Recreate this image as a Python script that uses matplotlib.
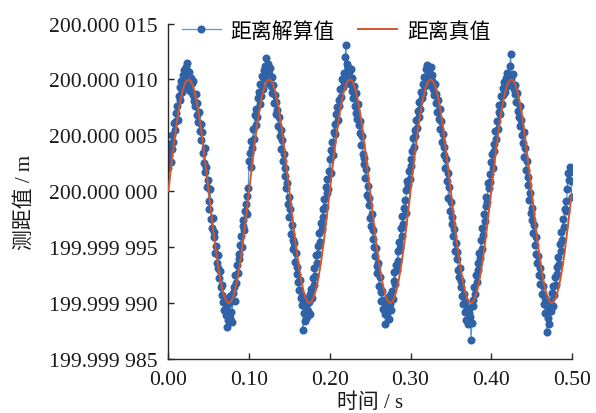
import numpy as np
import matplotlib.pyplot as plt
from matplotlib.ticker import FixedLocator, FixedFormatter

# ============================================================
# Data (offsets from 200 m, in micrometres)
# ============================================================

BASE_M = 200.0

# measured distance, one sample every 0.001 s from 0.000 to 0.500 s
MEAS_DT = 0.001
MEAS_UM = [
    # 0.000 - 0.099
    2.1, 3.2, 4.2, 2.6, 3.8, 5.0, 4.4, 6.1, 5.5, 6.3,
    7.0, 7.6, 6.4, 8.5, 9.3, 8.2, 9.9, 8.9, 10.4, 9.6,
    10.8, 9.2, 11.1, 11.5, 10.2, 9.5, 10.7, 9.0, 10.1, 9.7,
    8.6, 9.9, 8.1, 7.6, 8.7, 6.8, 7.9, 6.2, 7.1, 5.4,
    6.0, 4.6, 5.3, 3.4, 2.5, 3.9, 1.7, 2.2, 0.4, 1.0,
    -0.9, -1.6, 0.2, -2.5, -3.3, -2.4, -4.1, -3.6, -5.5, -4.9,
    -6.4, -5.7, -6.9, -7.8, -7.1, -8.6, -9.3, -8.4, -9.9, -10.6,
    -9.6, -11.1, -10.4, -12.1, -11.5, -10.0, -11.3, -9.4, -10.8, -11.7,
    -9.1, -8.6, -9.8, -7.5, -8.2, -6.6, -7.3, -5.6, -6.1, -4.8,
    -4.0, -5.0, -3.1, -2.6, -3.5, -1.8, -1.1, -2.0, -0.4, 0.3,
    # 0.100 - 0.196
    2.7, 3.4, 2.2, 4.5, 3.9, 5.6, 4.7,
    6.8, 5.9, 7.4, 6.6, 8.3, 8.9, 7.8, 9.6, 8.5, 10.3,
    9.1, 10.8, 10.1, 11.2, 11.9, 10.6, 11.4, 9.7, 10.5, 11.0,
    9.4, 10.2, 8.8, 9.5, 7.9, 8.6, 6.9, 8.0, 7.3, 5.8,
    6.6, 4.9, 5.5, 3.8, 4.6, 2.7, 3.3, 1.4, 2.1, 0.3,
    0.7, -1.1, -0.5, -2.3, -1.6, -3.8, -3.0, -4.4, -5.2, -4.6,
    -6.3, -5.5, -7.4, -6.8, -8.1, -8.8, -7.9, -9.5, -10.2, -9.4,
    -12.4, -10.9, -11.6, -10.3, -9.6, -11.2, -10.7, -9.9, -11.0, -9.2,
    -8.7, -9.5, -7.8, -8.4, -6.9, -7.6, -5.7, -6.4, -4.9, -5.6,
    -3.7, -4.5, -2.8, -3.4, -1.6, -2.3, -0.7, -1.4, 0.4, -0.2,
    # 0.197 - 0.296
    1.1, 0.2, 1.8, 2.9, 1.6, 3.7, 4.4, 3.2, 5.3, 6.0,
    5.1, 6.9, 7.5, 6.4, 8.2, 7.6, 9.1, 8.4, 10.0, 9.3,
    10.6, 9.8, 12.0, 13.1, 11.4, 10.3, 11.1, 10.7, 9.6, 10.9,
    9.0, 10.1, 8.3, 9.4, 7.6, 8.8, 7.0, 6.5, 7.8, 5.9,
    5.2, 6.3, 4.1, 4.9, 3.3, 2.4, 3.0, 1.2, 2.0, -0.3,
    0.5, -1.2, -0.6, -2.4, -3.1, -2.0, -4.3, -3.5, -5.0, -5.8,
    -5.1, -6.7, -7.3, -6.4, -8.5, -7.7, -9.0, -9.8, -8.9, -10.5,
    -9.7, -11.0, -11.9, -10.2, -10.9, -9.5, -11.4, -10.1, -9.3, -10.6,
    -8.9, -9.6, -8.0, -7.2, -8.3, -6.6, -7.0, -5.3, -6.2, -4.5,
    -5.1, -3.3, -4.0, -2.2, -2.9, -1.5, -0.8, -1.9, 0.1, 0.9,
    # 0.297 - 0.396
    0.6, 1.8, 1.1, 2.9, 2.3, 3.6, 4.8, 4.0, 5.5, 4.9,
    6.4, 5.7, 7.2, 6.6, 8.0, 7.4, 8.9, 8.3, 9.6, 8.8,
    10.2, 9.4, 10.9, 10.3, 11.3, 10.0, 10.7, 9.5, 11.1, 9.9,
    10.4, 9.1, 8.6, 9.6, 7.9, 8.7, 7.1, 8.2, 6.5, 7.4,
    5.6, 6.3, 4.4, 5.1, 3.2, 4.0, 2.1, 2.9, 0.9, 1.6,
    -0.6, 0.4, -1.8, -1.0, -2.9, -2.3, -4.0, -3.4, -5.3, -4.6,
    -6.1, -5.4, -7.0, -7.7, -6.9, -8.6, -8.0, -9.4, -10.1, -9.2,
    -10.8, -9.9, -11.5, -10.6, -11.9, -10.4, -10.9, -11.2, -13.3, -11.8,
    -9.7, -10.3, -8.6, -9.2, -7.5, -8.1, -6.4, -7.0, -5.5, -6.0,
    -4.4, -5.2, -3.3, -3.9, -2.0, -2.7, -1.3, -0.5, -1.0, 0.7,
    # 0.397 - 0.496
    0.3, 1.5, 0.8, 2.6, 3.3, 2.1, 4.2, 3.6, 5.4, 4.7,
    6.3, 5.6, 7.1, 7.7, 6.9, 8.5, 7.8, 9.2, 8.6, 9.8,
    8.9, 10.1, 9.4, 10.6, 9.7, 10.3, 11.2, 12.3, 10.0, 9.6,
    10.5, 9.1, 8.7, 9.5, 8.0, 8.8, 7.2, 6.6, 7.6, 5.8,
    6.4, 5.0, 4.3, 5.3, 3.1, 3.9, 1.9, 2.7, 0.6, 1.3,
    -0.8, -0.2, -1.9, -2.6, -1.5, -3.7, -3.0, -4.8, -4.1, -5.6,
    -6.4, -5.8, -7.5, -6.9, -8.3, -7.6, -9.2, -8.5, -10.1, -9.5,
    -10.9, -10.2, -12.6, -11.3, -10.6, -11.9, -9.8, -10.7, -9.1, -10.3,
    -8.5, -9.3, -7.7, -8.4, -6.8, -7.4, -5.9, -6.5, -4.7, -5.3,
    -3.6, -4.4, -2.5, -3.2, -1.6, -0.9, -1.8, 0.2, 1.6, 1.0,
    # 0.497 - 0.500
    1.7, 2.2, 0.9, -0.5,
]

# true distance, one sample every 0.0025 s from 0.000 to 0.500 s
TRUE_DT = 0.0025
TRUE_UM = [
    0.0, 1.56, 3.09, 4.54, 5.88, 7.07, 8.09, 8.91, 9.51, 9.88,
    10.0, 9.88, 9.51, 8.91, 8.09, 7.07, 5.88, 4.54, 3.09, 1.56,
    0.0, -1.56, -3.09, -4.54, -5.88, -7.07, -8.09, -8.91, -9.51, -9.88,
    -10.0, -9.88, -9.51, -8.91, -8.09, -7.07, -5.88, -4.54, -3.09, -1.56,
    0.0, 1.56, 3.09, 4.54, 5.88, 7.07, 8.09, 8.91, 9.51, 9.88,
    10.0, 9.88, 9.51, 8.91, 8.09, 7.07, 5.88, 4.54, 3.09, 1.56,
    0.0, -1.56, -3.09, -4.54, -5.88, -7.07, -8.09, -8.91, -9.51, -9.88,
    -10.0, -9.88, -9.51, -8.91, -8.09, -7.07, -5.88, -4.54, -3.09, -1.56,
    0.0, 1.56, 3.09, 4.54, 5.88, 7.07, 8.09, 8.91, 9.51, 9.88,
    10.0, 9.88, 9.51, 8.91, 8.09, 7.07, 5.88, 4.54, 3.09, 1.56,
    0.0, -1.56, -3.09, -4.54, -5.88, -7.07, -8.09, -8.91, -9.51, -9.88,
    -10.0, -9.88, -9.51, -8.91, -8.09, -7.07, -5.88, -4.54, -3.09, -1.56,
    0.0, 1.56, 3.09, 4.54, 5.88, 7.07, 8.09, 8.91, 9.51, 9.88,
    10.0, 9.88, 9.51, 8.91, 8.09, 7.07, 5.88, 4.54, 3.09, 1.56,
    0.0, -1.56, -3.09, -4.54, -5.88, -7.07, -8.09, -8.91, -9.51, -9.88,
    -10.0, -9.88, -9.51, -8.91, -8.09, -7.07, -5.88, -4.54, -3.09, -1.56,
    0.0, 1.56, 3.09, 4.54, 5.88, 7.07, 8.09, 8.91, 9.51, 9.88,
    10.0, 9.88, 9.51, 8.91, 8.09, 7.07, 5.88, 4.54, 3.09, 1.56,
    0.0, -1.56, -3.09, -4.54, -5.88, -7.07, -8.09, -8.91, -9.51, -9.88,
    -10.0, -9.88, -9.51, -8.91, -8.09, -7.07, -5.88, -4.54, -3.09, -1.56,
    0.0,
]

X_TICKS = [0.0, 0.1, 0.2, 0.3, 0.4, 0.5]
X_TICK_LABELS = ["0.00", "0.10", "0.20", "0.30", "0.40", "0.50"]

Y_TICKS_UM = [-15, -10, -5, 0, 5, 10, 15]
Y_TICK_LABELS = [
    "199.999 985", "199.999 990", "199.999 995", "200.000 000",
    "200.000 005", "200.000 010", "200.000 015",
]

LABEL_MEAS = "距离解算值"
LABEL_TRUE = "距离真值"
X_LABEL = "时间 / s"
Y_LABEL = "测距值 / m"

# ============================================================
# Style
# ============================================================

plt.rcParams.update({
    "font.family": ["Liberation Serif", "Noto Sans CJK SC"],
    "font.size": 15,
})

C_MARK = "#2F62A6"
C_LINE = "#5B9BD5"
C_TRUE = "#D4562A"
C_AXIS = "#262626"

# ============================================================
# Plot
# ============================================================

t_meas = MEAS_DT * np.arange(len(MEAS_UM))
t_true = TRUE_DT * np.arange(len(TRUE_UM))
y_meas = BASE_M + np.array(MEAS_UM) * 1e-6
y_true = BASE_M + np.array(TRUE_UM) * 1e-6

fig = plt.figure(figsize=(5.96, 4.14), dpi=100)
ax = fig.add_axes([0.2824, 0.1304, 0.6773, 0.8104])

ax.plot(t_meas, y_meas, color=C_LINE, linewidth=0.9,
        marker="o", markersize=5.8, markerfacecolor=C_MARK,
        markeredgewidth=0, label=LABEL_MEAS, zorder=2)
ax.plot(t_true, y_true, color=C_TRUE, linewidth=1.4,
        label=LABEL_TRUE, zorder=3)

ax.set_xlim(0, 0.5)
ax.set_ylim(BASE_M - 15e-6, BASE_M + 15e-6)

ax.xaxis.set_major_locator(FixedLocator(X_TICKS))
ax.xaxis.set_major_formatter(FixedFormatter(X_TICK_LABELS))
ax.yaxis.set_major_locator(FixedLocator([BASE_M + v * 1e-6 for v in Y_TICKS_UM]))
ax.yaxis.set_major_formatter(FixedFormatter(Y_TICK_LABELS))

for side in ["top", "right"]:
    ax.spines[side].set_visible(False)
for side in ["left", "bottom"]:
    ax.spines[side].set_color(C_AXIS)
    ax.spines[side].set_linewidth(1.0)

ax.tick_params(direction="in", length=4, width=1.0, color=C_AXIS,
               labelcolor="#1a1a1a", labelsize=15.6)
ax.tick_params(axis="x", pad=8)
ax.tick_params(axis="y", pad=8)

ax.set_xlabel(X_LABEL, fontsize=15, color="#1a1a1a")
ax.set_ylabel(Y_LABEL, fontsize=15, color="#1a1a1a")
ax.xaxis.set_label_coords(0.5, -0.098)
ax.yaxis.set_label_coords(-0.33, 0.468)

ax.legend(loc="center left", bbox_to_anchor=(0.033, 0.976), ncol=2,
          frameon=False, fontsize=15, handlelength=1.9,
          handletextpad=0.45, columnspacing=1.1, borderaxespad=0,
          borderpad=0)

fig.savefig("out.png", dpi=100)
plt.close(fig)
